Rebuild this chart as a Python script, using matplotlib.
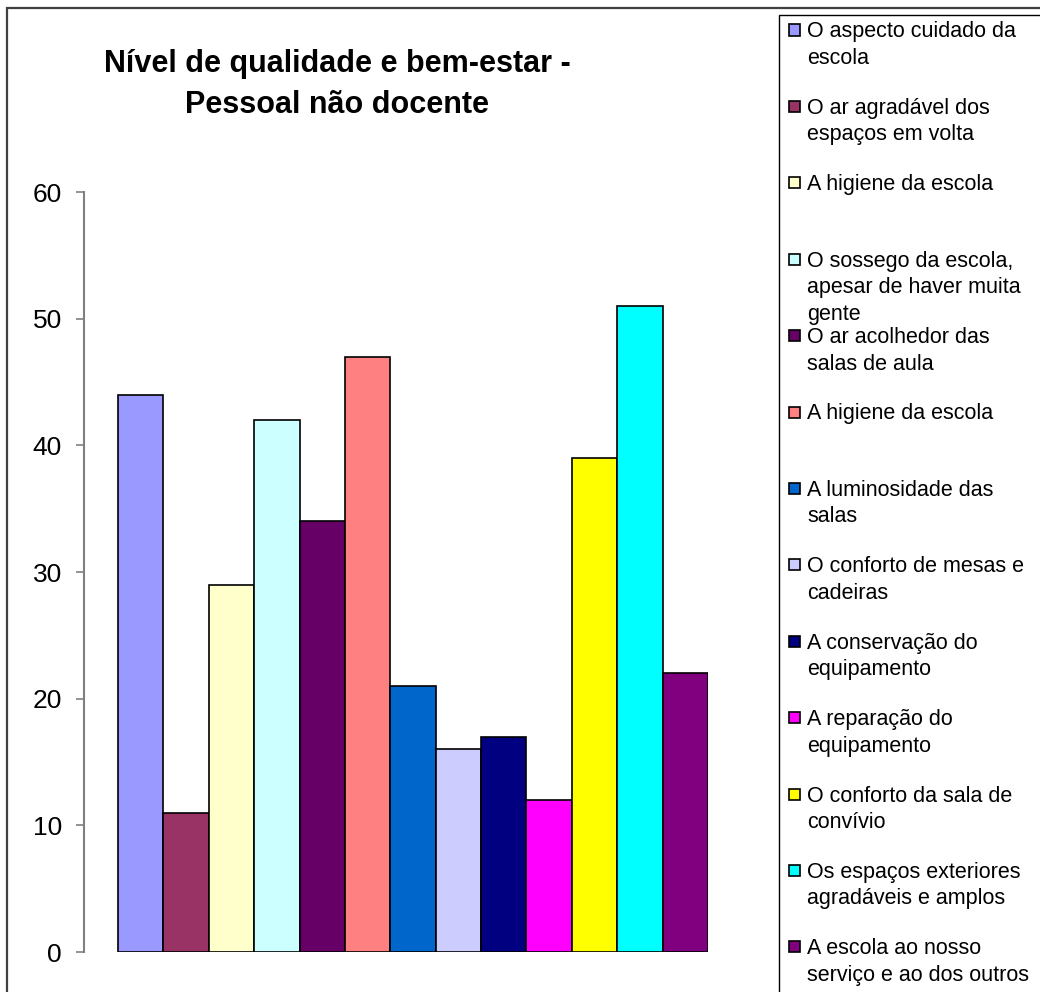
import matplotlib
matplotlib.use("Agg")
import matplotlib.pyplot as plt
from matplotlib.patches import Rectangle

plt.rcParams['font.family'] = ['Liberation Sans', 'DejaVu Sans']

# Data
title_lines = ["Nível de qualidade e bem-estar -", "Pessoal não docente"]
labels = [
    "O aspecto cuidado da\nescola",
    "O ar agradável dos\nespaços em volta",
    "A higiene da escola",
    "O sossego da escola,\napesar de haver muita\ngente",
    "O ar acolhedor das\nsalas de aula",
    "A higiene da escola",
    "A luminosidade das\nsalas",
    "O conforto de mesas e\ncadeiras",
    "A conservação do\nequipamento",
    "A reparação do\nequipamento",
    "O conforto da sala de\nconvívio",
    "Os espaços exteriores\nagradáveis e amplos",
    "A escola ao nosso\nserviço e ao dos outros",
]
values = [44, 11, 29, 42, 34, 47, 21, 16, 17, 12, 39, 51, 22]
colors = ["#9999FF", "#993366", "#FFFFCC", "#CCFFFF", "#660066", "#FF8080",
          "#0066CC", "#CCCCFF", "#000080", "#FF00FF", "#FFFF00", "#00FFFF",
          "#800080"]
y_ticks = [0, 10, 20, 30, 40, 50, 60]

W, H = 1040, 992
fig = plt.figure(figsize=(W / 100, H / 100), dpi=100)
fig.patch.set_facecolor("white")


def fx(px):
    return px / W


def fy(py):
    return 1 - py / H


# Plot area
ax_left, ax_right, ax_top, ax_bottom = 84, 708, 192, 952
ax = fig.add_axes([fx(ax_left), fy(ax_bottom), fx(ax_right - ax_left),
                   (ax_bottom - ax_top) / H])
xpos = list(range(len(values)))
ax.bar(xpos, values, width=1.0, color=colors, edgecolor="black",
       linewidth=1.2, zorder=3)

bar_w_px = (ax_right - ax_left) / (len(values) + 34 / 45.4)
ax.set_xlim(-0.5 - 34 / bar_w_px, len(values) - 0.5)
ax.set_ylim(0, 60)
ax.set_yticks(y_ticks)
ax.set_xticks([])
for s in ("top", "right", "bottom"):
    ax.spines[s].set_visible(False)
ax.spines["left"].set_color("#808080")
ax.spines["left"].set_linewidth(1.5)
ax.tick_params(axis="y", direction="out", length=6, width=1.2,
               color="#808080", labelsize=19, pad=10, labelcolor="black")
ax.set_facecolor("none")

# Title
fig.text(fx(337), fy(72), title_lines[0], ha="center", va="baseline",
         fontsize=22, fontweight="bold")
fig.text(fx(337), fy(113), title_lines[1], ha="center", va="baseline",
         fontsize=22, fontweight="bold")

# Outer chart border
fig.patches.append(Rectangle((fx(7), fy(1100)), fx(1200), (1100 - 8) / H,
                             transform=fig.transFigure, fill=False,
                             edgecolor="#404040", linewidth=1.6))

# Legend box
fig.patches.append(Rectangle((fx(779), fy(1100)), fx(400), (1100 - 15) / H,
                             transform=fig.transFigure, fill=False,
                             edgecolor="black", linewidth=1.0))

# Legend entries
entry_top, entry_step, line_step = 30, 76.4, 26.5
sq = 11
for i, (lab, col) in enumerate(zip(labels, colors)):
    cy = entry_top + i * entry_step
    fig.patches.append(Rectangle((fx(789), fy(cy + sq / 2)), fx(sq), sq / H,
                                 transform=fig.transFigure, facecolor=col,
                                 edgecolor="black", linewidth=1.2))
    for j, line in enumerate(lab.split("\n")):
        fig.text(fx(807), fy(cy + j * line_step + 7.5), line, ha="left",
                 va="baseline", fontsize=15.5)

fig.savefig("out.png", dpi=100, facecolor="white")
